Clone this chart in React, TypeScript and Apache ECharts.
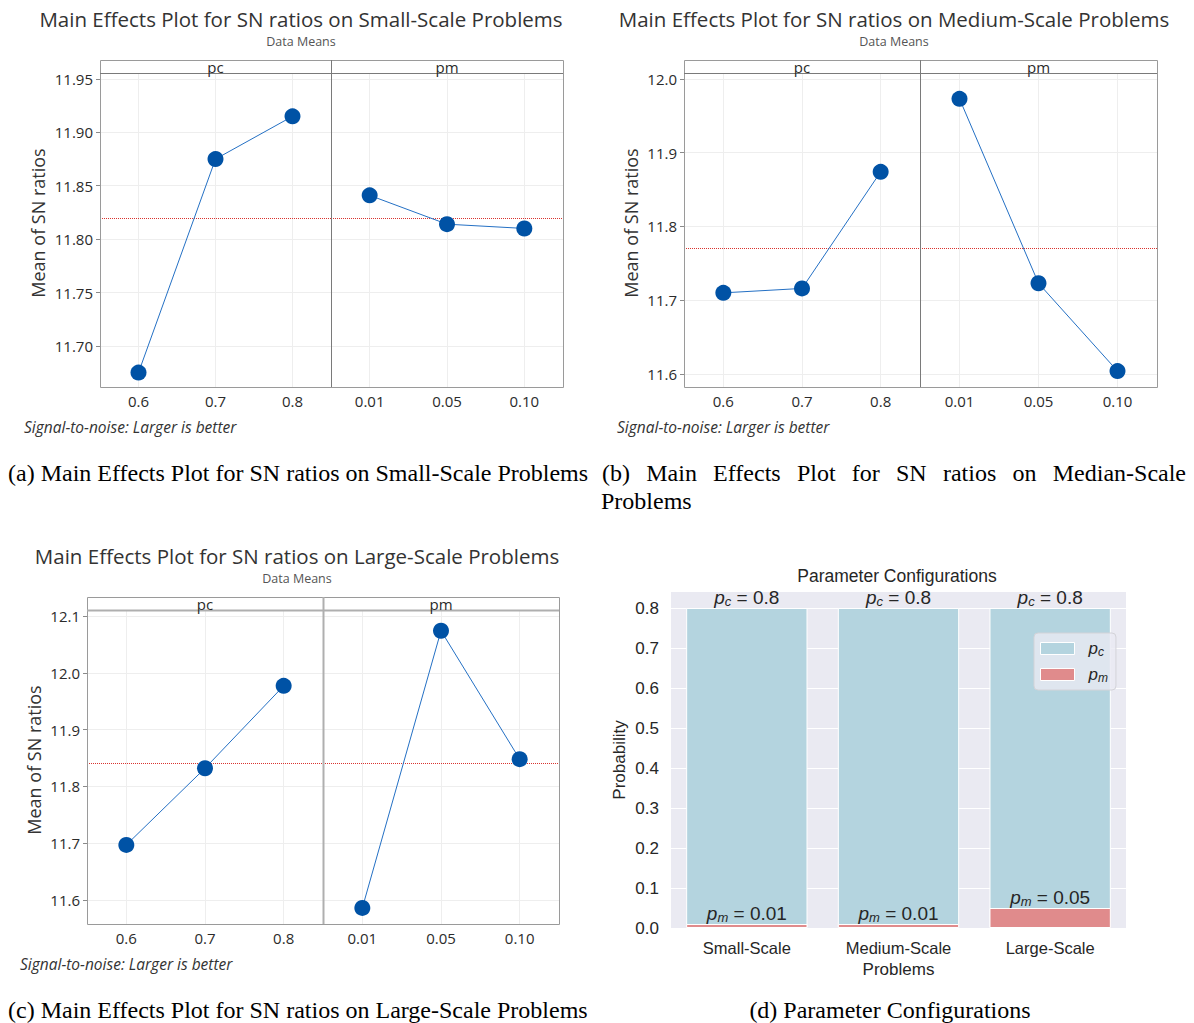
import React, { useEffect, useRef } from 'react';
import * as echarts from 'echarts';

// ---------- data ----------
const pcLevels = ['0.6', '0.7', '0.8'];
const pmLevels = ['0.01', '0.05', '0.10'];

const smallPcMeans = [11.675, 11.875, 11.915];
const smallPmMeans = [11.841, 11.814, 11.81];
const mediumPcMeans = [11.71, 11.716, 11.874];
const mediumPmMeans = [11.973, 11.723, 11.604];
const largePcMeans = [11.697, 11.832, 11.977];
const largePmMeans = [11.586, 12.074, 11.848];

const smallTicks = [11.7, 11.75, 11.8, 11.85, 11.9, 11.95];
const mediumTicks = [11.6, 11.7, 11.8, 11.9, 12.0];
const largeTicks = [11.6, 11.7, 11.8, 11.9, 12.0, 12.1];

const smallRange = [11.6615, 11.9556];
const mediumRange = [11.5824, 12.008];
const largeRange = [11.5577, 12.1106];

const problemScales = ['Small-Scale', 'Medium-Scale', 'Large-Scale'];
const pcConfig = [0.8, 0.8, 0.8];
const pmConfig = [0.01, 0.01, 0.05];
const probTicks = [0, 0.1, 0.2, 0.3, 0.4, 0.5, 0.6, 0.7, 0.8];

// ---------- styles ----------
const MINI = '"Open Sans", "Noto Sans", sans-serif';
const SEA = '"Liberation Sans", Arial, sans-serif';
const SERIF = '"Liberation Serif", "Times New Roman", serif';
const TXT = '#2b2b2b';
const CAPTION_FONT = `24px ${SERIF}`;

type Layout = {
  x0: number; x1: number; y0: number; y1: number; strip: number; div: number;
  titleX: number; titleY: number; noteX: number; noteY: number; nameX: number; nameY: number;
  heavy: boolean;
};

const layoutA: Layout = { x0: 100, x1: 563, y0: 60, y1: 387, strip: 73, div: 331, titleX: 301, titleY: 18.5, noteX: 24, noteY: 427, nameX: 38, nameY: 223, heavy: false };
const layoutB: Layout = { x0: 684, x1: 1157, y0: 60, y1: 387, strip: 73, div: 920, titleX: 894, titleY: 18.5, noteX: 617, noteY: 427, nameX: 631, nameY: 223, heavy: false };
const layoutC: Layout = { x0: 87, x1: 559, y0: 597, y1: 924, strip: 610, div: 323, titleX: 297, titleY: 555.5, noteX: 20, noteY: 964, nameX: 34, nameY: 760, heavy: true };

function mainEffects(
  gi: number, L: Layout, title: string, pcVals: number[], pmVals: number[],
  ticks: number[], range: number[], dec: number,
) {
  const grids = [
    { left: L.x0, top: L.strip, width: L.div - L.x0, height: L.y1 - L.strip },
    { left: L.div, top: L.strip, width: L.x1 - L.div, height: L.y1 - L.strip },
  ];
  const levelSets = [pcLevels, pmLevels];
  const xAxes = levelSets.map((lv, k) => ({
    type: 'category', gridIndex: gi + k, data: lv, boundaryGap: true,
    axisLine: { show: false }, axisTick: { show: false },
    axisLabel: { fontSize: 15, color: TXT, fontFamily: MINI, margin: 6 },
    splitLine: { show: true, alignWithLabel: true, lineStyle: { color: '#EEEEEE', width: 1 } },
  }));
  const yAxes = [0, 1].map((k) => ({
    type: 'value', gridIndex: gi + k, min: range[0], max: range[1],
    axisLine: { show: false },
    axisTick: { show: k === 0, length: 4, lineStyle: { color: '#8a8a8a' }, customValues: ticks },
    axisLabel: {
      show: k === 0, customValues: ticks, margin: 7, fontSize: 15, color: TXT, fontFamily: MINI,
      formatter: (v: number) => v.toFixed(dec),
    },
    splitLine: { show: true, lineStyle: { color: '#EEEEEE', width: 1 } },
  }));
  const mean = pcVals.reduce((a, b) => a + b, 0) / pcVals.length;
  const series = [pcVals, pmVals].map((vals, k) => ({
    type: 'line', xAxisIndex: gi + k, yAxisIndex: gi + k, data: vals,
    symbol: 'circle', symbolSize: 16, z: 5,
    itemStyle: { color: '#0052A5' },
    lineStyle: { color: '#2470C4', width: 1 },
    markLine: {
      silent: true, symbol: 'none', label: { show: false },
      lineStyle: { color: '#D9332F', type: 'dotted', width: 1 },
      data: [{ yAxis: mean }],
    },
  }));
  const lc = L.heavy ? '#AFAFAF' : '#7a7a7a';
  const lw = L.heavy ? 2 : 1;
  const graphics: any[] = [
    { type: 'rect', shape: { x: L.x0 + 0.5, y: L.y0 + 0.5, width: L.x1 - L.x0, height: L.y1 - L.y0 }, style: { fill: 'none', stroke: '#9a9a9a', lineWidth: 1 }, z: 10 },
    { type: 'line', shape: { x1: L.x0, y1: L.strip + 0.5, x2: L.x1, y2: L.strip + 0.5 }, style: { stroke: lc, lineWidth: lw }, z: 10 },
    { type: 'line', shape: { x1: L.div + 0.5, y1: L.y0, x2: L.div + 0.5, y2: L.y1 }, style: { stroke: lc, lineWidth: lw }, z: 10 },
    { type: 'text', x: (L.x0 + L.div) / 2, y: L.strip - 6, style: { text: 'pc', font: `15px ${MINI}`, fill: TXT, align: 'center', verticalAlign: 'middle', lineHeight: 12 }, z: 10 },
    { type: 'text', x: (L.div + L.x1) / 2, y: L.strip - 6, style: { text: 'pm', font: `15px ${MINI}`, fill: TXT, align: 'center', verticalAlign: 'middle', lineHeight: 12 }, z: 10 },
    { type: 'text', x: L.titleX, y: L.titleY, style: { text: title, font: `20.5px ${MINI}`, fill: '#333', align: 'center', verticalAlign: 'middle', lineHeight: 20 } },
    { type: 'text', x: L.titleX, y: L.titleY + 23, style: { text: 'Data Means', font: `12.5px ${MINI}`, fill: '#555', align: 'center', verticalAlign: 'middle', lineHeight: 13 } },
    { type: 'text', x: L.noteX, y: L.noteY, style: { text: 'Signal-to-noise: Larger is better', font: `italic 15.5px ${MINI}`, fill: '#333', align: 'left', verticalAlign: 'middle' } },
    { type: 'text', x: L.nameX, y: L.nameY, rotation: Math.PI / 2, style: { text: 'Mean of SN ratios', font: `18px ${MINI}`, fill: '#333', align: 'center', verticalAlign: 'middle' } },
  ];
  return { grids, xAxes, yAxes, series, graphics };
}

// justify one caption line between two x positions
function justify(words: string[], xStart: number, xEnd: number): number[] {
  const ctx = document.createElement('canvas').getContext('2d');
  let widths = words.map((w) => w.length * 11);
  if (ctx) {
    ctx.font = CAPTION_FONT;
    widths = words.map((w) => ctx.measureText(w).width);
  }
  const total = widths.reduce((a, b) => a + b, 0);
  const gap = (xEnd - xStart - total) / (words.length - 1);
  const xs: number[] = [];
  let x = xStart;
  widths.forEach((w) => { xs.push(x); x += w + gap; });
  return xs;
}

function buildOption() {
  const a = mainEffects(0, layoutA, 'Main Effects Plot for SN ratios on Small-Scale Problems', smallPcMeans, smallPmMeans, smallTicks, smallRange, 2);
  const b = mainEffects(2, layoutB, 'Main Effects Plot for SN ratios on Medium-Scale Problems', mediumPcMeans, mediumPmMeans, mediumTicks, mediumRange, 1);
  const c = mainEffects(4, layoutC, 'Main Effects Plot for SN ratios on Large-Scale Problems', largePcMeans, largePmMeans, largeTicks, largeRange, 1);

  const rich = {
    i: { fontStyle: 'italic', fontSize: 19, fontFamily: SEA, color: '#262626', lineHeight: 22 },
    s: { fontStyle: 'italic', fontSize: 13, fontFamily: SEA, color: '#262626', verticalAlign: 'bottom', lineHeight: 15 },
    t: { fontSize: 19, fontFamily: SEA, color: '#262626', lineHeight: 22 },
  };

  const gridD = { left: 671, top: 592, width: 455, height: 336, show: true, backgroundColor: '#EAEAF2', borderWidth: 0 };
  const xD = {
    type: 'category', gridIndex: 6, data: problemScales, boundaryGap: true,
    name: 'Problems', nameLocation: 'middle', nameGap: 33,
    nameTextStyle: { fontSize: 17, color: '#262626', fontFamily: SEA },
    axisLine: { show: false }, axisTick: { show: false },
    axisLabel: { fontSize: 16.5, color: '#262626', fontFamily: SEA, margin: 11 },
    splitLine: { show: false },
  };
  const yD = {
    type: 'value', gridIndex: 6, min: 0, max: 0.84,
    name: 'Probability', nameLocation: 'middle', nameGap: 43,
    nameTextStyle: { fontSize: 17, color: '#262626', fontFamily: SEA },
    axisLine: { show: false }, axisTick: { show: false, customValues: probTicks },
    axisLabel: { customValues: probTicks, fontSize: 17, color: '#262626', fontFamily: SEA, margin: 12, formatter: (v: number) => v.toFixed(1) },
    splitLine: { show: true, lineStyle: { color: '#FFFFFF', width: 1 } },
  };
  const seriesD = [
    {
      name: 'pc', type: 'bar', xAxisIndex: 6, yAxisIndex: 6, data: pcConfig, barWidth: '80%', barGap: '-100%',
      itemStyle: { color: '#B4D4DF', borderColor: '#FFFFFF', borderWidth: 1 },
      label: { show: true, position: 'top', distance: 0, formatter: (p: any) => `{i|p}{s|c}{t| = ${p.value}}`, rich },
      z: 2,
    },
    {
      name: 'pm', type: 'bar', xAxisIndex: 6, yAxisIndex: 6, data: pmConfig, barWidth: '80%', barGap: '-100%',
      itemStyle: { color: '#E08B8C', borderColor: '#FFFFFF', borderWidth: 1 },
      label: { show: true, position: 'top', distance: 0, formatter: (p: any) => `{i|p}{s|m}{t| = ${p.value.toFixed(2)}}`, rich },
      z: 3,
    },
  ];

  const capBWords = ['(b)', 'Main', 'Effects', 'Plot', 'for', 'SN', 'ratios', 'on', 'Median-Scale'];
  const capBX = justify(capBWords, 602, 1186);
  const txt = (text: string, x: number, y: number, align = 'left') => ({
    type: 'text', x, y, style: { text, font: CAPTION_FONT, fill: '#000', align, verticalAlign: 'middle' },
  });
  const captions: any[] = [
    txt('(a) Main Effects Plot for SN ratios on Small-Scale Problems', 8, 473),
    ...capBWords.map((w, i) => txt(w, capBX[i], 473)),
    txt('Problems', 601, 501),
    txt('(c) Main Effects Plot for SN ratios on Large-Scale Problems', 8, 1010),
    txt('(d) Parameter Configurations', 890, 1010, 'center'),
    { type: 'text', x: 897, y: 576, style: { text: 'Parameter Configurations', font: `17.5px ${SEA}`, fill: '#262626', align: 'center', verticalAlign: 'middle' } },
  ];

  return {
    animation: false,
    backgroundColor: '#FFFFFF',
    grid: [...a.grids, ...b.grids, ...c.grids, gridD],
    xAxis: [...a.xAxes, ...b.xAxes, ...c.xAxes, xD],
    yAxis: [...a.yAxes, ...b.yAxes, ...c.yAxes, yD],
    series: [...a.series, ...b.series, ...c.series, ...seriesD],
    legend: {
      data: ['pc', 'pm'], orient: 'vertical', left: 1034, top: 633,
      itemWidth: 34, itemHeight: 12, itemGap: 8, selectedMode: false,
      backgroundColor: 'rgba(234,234,242,0.8)', borderColor: '#D3D3D8', borderWidth: 1, borderRadius: 4,
      padding: [7, 8, 6, 6], icon: 'rect',
      itemStyle: { borderColor: '#FFFFFF', borderWidth: 1 },
      formatter: (n: string) => (n === 'pc' ? '{i|p}{s|c}' : '{i|p}{s|m}'),
      textStyle: {
        rich: {
          i: { fontStyle: 'italic', fontSize: 17, fontFamily: SEA, color: '#262626', lineHeight: 19, padding: [0, 0, 0, 9] },
          s: { fontStyle: 'italic', fontSize: 12, fontFamily: SEA, color: '#262626', verticalAlign: 'bottom', lineHeight: 13 },
        },
      },
    },
    graphic: [...a.graphics, ...b.graphics, ...c.graphics, ...captions],
  };
}

export default function App() {
  const ref = useRef<HTMLDivElement>(null);
  useEffect(() => {
    document.body.style.margin = '0';
    const chart = echarts.init(ref.current!, undefined, { renderer: 'svg' });
    chart.setOption(buildOption() as any);
    return () => chart.dispose();
  }, []);
  return <div ref={ref} style={{ width: 1194, height: 1023 }} />;
}
